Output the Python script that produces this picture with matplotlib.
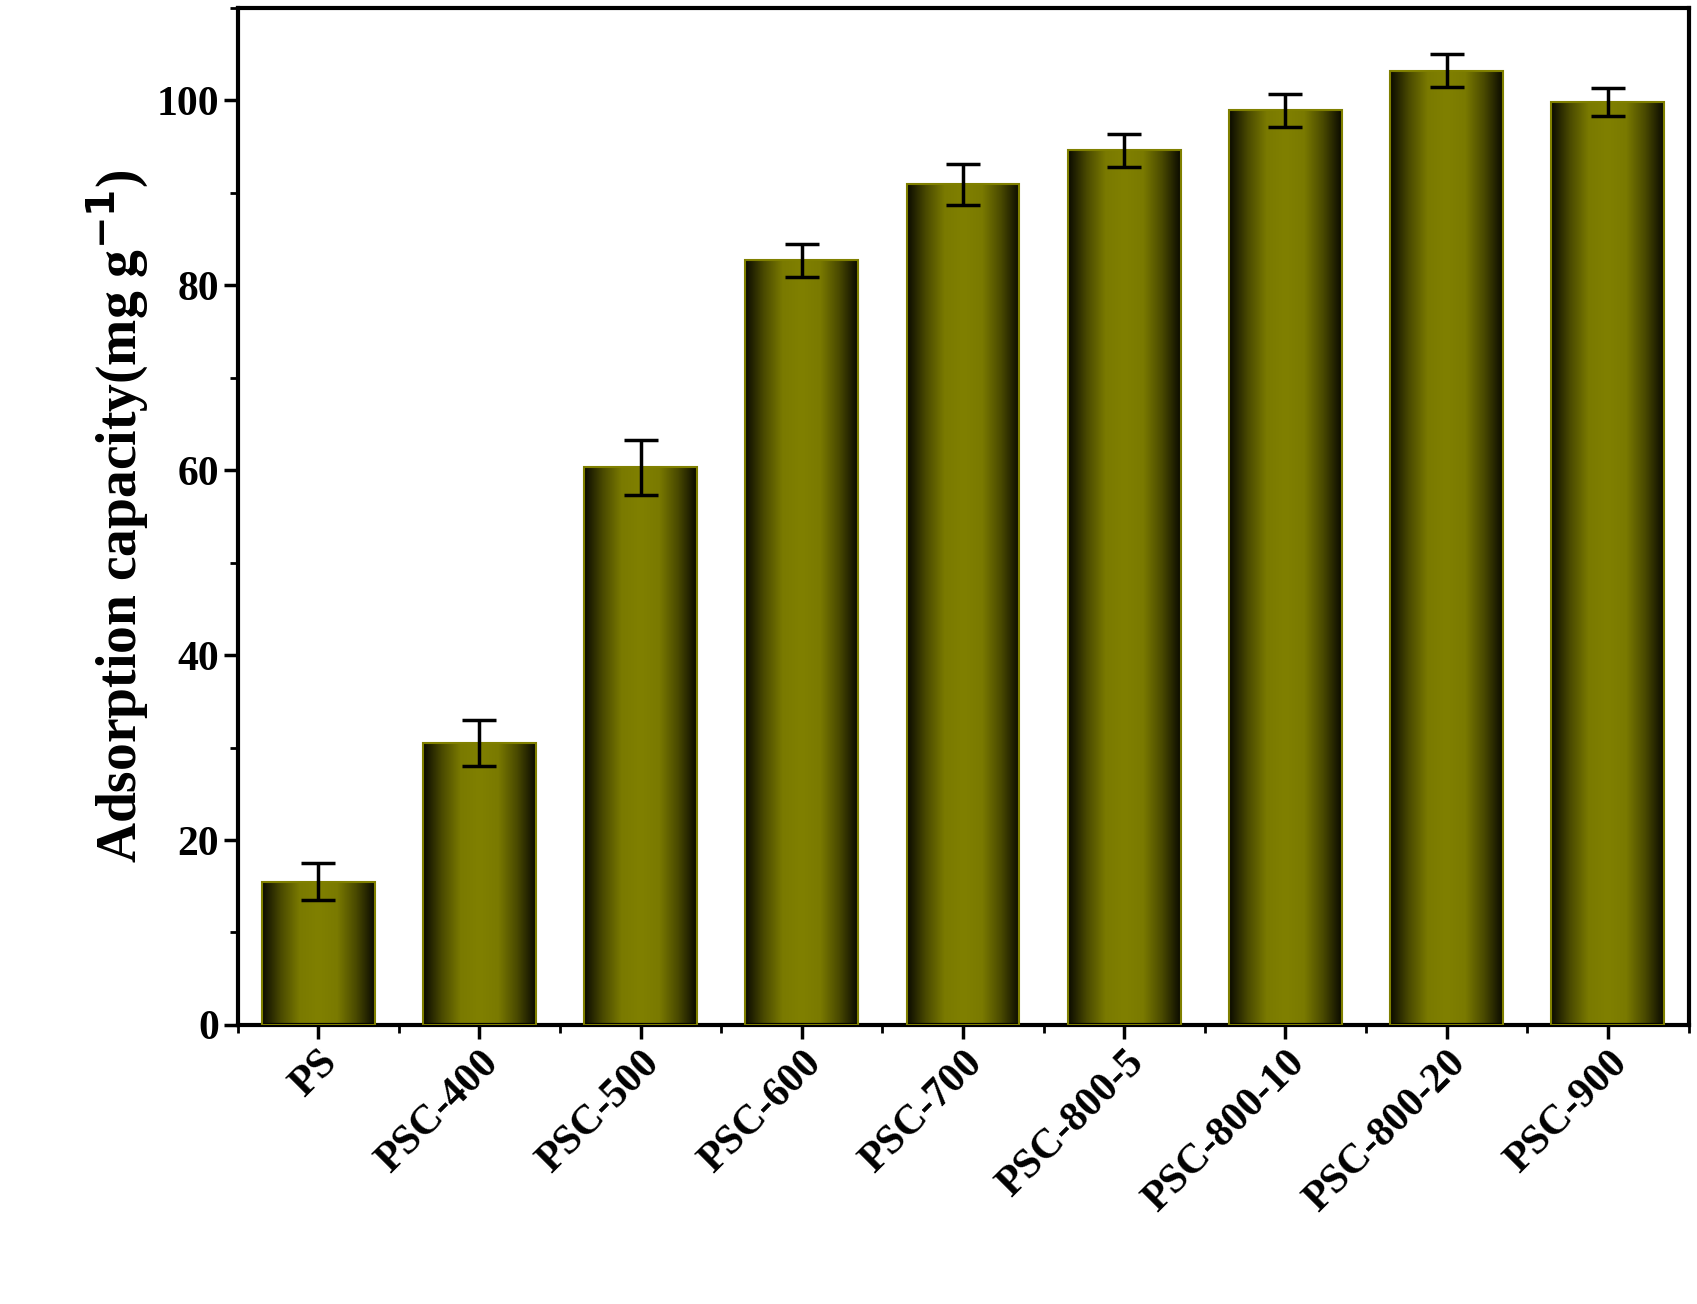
import numpy as np
import matplotlib
matplotlib.use("Agg")
from matplotlib import pyplot as plt
from matplotlib.colors import LinearSegmentedColormap
from matplotlib.ticker import MultipleLocator

samples = ["PS", "PSC-400", "PSC-500", "PSC-600", "PSC-700",
           "PSC-800-5", "PSC-800-10", "PSC-800-20", "PSC-900"]
capacity = [15.5, 30.5, 60.3, 82.7, 90.9, 94.6, 98.9, 103.2, 99.8]
errors = [2.0, 2.5, 3.0, 1.8, 2.2, 1.8, 1.8, 1.8, 1.5]

plt.rcParams['font.family'] = ['Liberation Serif', 'DejaVu Serif']
plt.rcParams['font.weight'] = 'bold'

fig = plt.figure(figsize=(16.97, 13.04), dpi=100)
ax = fig.add_axes([0.14, 0.214, 0.855, 0.78])

cmap = LinearSegmentedColormap.from_list(
    "olive", ["#0a0a00", "#4a4a00", "#7a7a00", "#808000", "#7a7a00", "#4a4a00", "#0a0a00"])
grad = np.linspace(0, 1, 256).reshape(1, -1)
width = 0.7
x = np.arange(len(samples))
for xi, v in zip(x, capacity):
    ax.imshow(grad, cmap=cmap, aspect='auto', extent=[xi - width/2, xi + width/2, 0, v], zorder=2)
bars = ax.bar(x, capacity, width, facecolor='none', edgecolor='#808000', linewidth=1.5, zorder=3)
ax.errorbar(x, capacity, yerr=errors, fmt='none', ecolor='black', elinewidth=2.5,
            capsize=12, capthick=2.5, zorder=4)

ax.set_xlim(-0.5, 8.5)
ax.set_ylim(0, 110)
ax.set_xticks(x)
ax.set_xticklabels(samples, rotation=45, ha='right', rotation_mode='anchor', fontsize=30, fontweight='bold')
ax.xaxis.set_minor_locator(MultipleLocator(1, offset=0.5))
ax.yaxis.set_major_locator(MultipleLocator(20))
ax.yaxis.set_minor_locator(MultipleLocator(10))
ax.tick_params(axis='both', which='major', direction='out', length=10, width=2.5, labelsize=30)
ax.tick_params(axis='both', which='minor', direction='out', length=6, width=2)
for lab in ax.get_yticklabels():
    lab.set_fontweight('bold')
for s in ax.spines.values():
    s.set_linewidth(3)
ax.set_ylabel(r"Adsorption capacity(mg g$^{\mathbf{-1}}$)", fontsize=40, fontweight='bold')

fig.savefig("out.png")
